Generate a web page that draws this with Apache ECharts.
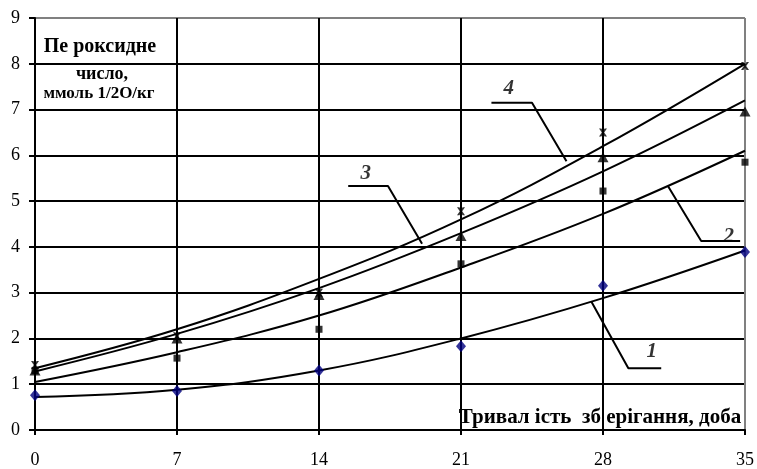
<!DOCTYPE html>
<html><head><meta charset="utf-8">
<script src="https://cdn.jsdelivr.net/npm/echarts@6/dist/echarts.min.js"></script>
<style>html,body{margin:0;padding:0;background:#fff}#c{width:757px;height:469px}</style>
</head><body><div id="c"></div>
<script>
const days = [0, 7, 14, 21, 28, 35];
const xTicks = [0, 7, 14, 21, 28, 35];
const yTicks = [0, 1, 2, 3, 4, 5, 6, 7, 8, 9];
// measured points
const pts1 = [0.76, 0.85, 1.3, 1.83, 3.15, 3.89];
const pts2 = [1.3, 1.57, 2.2, 3.63, 5.22, 5.85];
const pts3 = [1.3, 2.0, 2.95, 4.24, 5.96, 6.96];
const pts4 = [1.42, 2.05, 3.0, 4.78, 6.5, 7.95];
// trend curves
const fit1 = [0.72, 0.88, 1.3, 2.0, 2.88, 3.92];
const fit2 = [1.05, 1.7, 2.5, 3.55, 4.72, 6.1];
const fit3 = [1.28, 2.1, 3.1, 4.3, 5.65, 7.2];
const fit4 = [1.35, 2.2, 3.3, 4.6, 6.2, 8.0];
// callout leaders (data coords) and numbers
const lead1 = [[27.43, 2.8], [29.25, 1.35], [30.87, 1.35]];
const lead2 = [[31.2, 5.33], [32.84, 4.13], [34.76, 4.13]];
const lead3 = [[19.08, 4.07], [17.4, 5.33], [15.44, 5.33]];
const lead4 = [[26.2, 5.87], [24.5, 7.15], [22.5, 7.15]];
const callouts = [[30.4, 1.72, '1'], [34.2, 4.22, '2'], [16.3, 5.6, '3'], [23.35, 7.45, '4']];
const yTitle = ['Пе роксидне', 'число,', 'ммоль 1/2О/кг'];
const xTitle = 'Тривал ість  зб ерігання, доба';

const pair = (xs, ys) => xs.map((x, i) => [x, ys[i]]);
const serif = 'Liberation Serif, Times New Roman, serif';
const fitSeries = ys => ({type: 'line', data: pair(days, ys), smooth: 0.4, symbol: 'none',
  lineStyle: {color: '#000', width: 2}, z: 3, silent: true});
const leadSeries = d => ({type: 'line', data: d, symbol: 'none',
  lineStyle: {color: '#000', width: 2}, z: 3, silent: true});
const crossPath = 'path://M0,0L3,0L5,3L7,0L10,0L6.5,5L10,10L7,10L5,7L3,10L0,10L3.5,5Z';

const chart = echarts.init(document.getElementById('c'));
chart.setOption({
  animation: false,
  grid: {left: 35, right: 10, top: 18, bottom: 37},
  xAxis: {type: 'value', min: 0, max: 35, interval: 7,
    axisLine: {lineStyle: {color: '#000', width: 2}},
    axisTick: {show: true, length: 5, lineStyle: {color: '#000', width: 2}},
    axisLabel: {fontFamily: serif, fontSize: 18, color: '#000', margin: 21,
      formatter: v => xTicks.includes(v) ? String(v) : ''},
    splitLine: {show: true, lineStyle: {color: ['#000', '#000', '#000', '#000', '#000', '#808080'], width: 2}}
  },
  yAxis: {type: 'value', min: 0, max: 9, interval: 1,
    axisLine: {show: true, lineStyle: {color: '#000', width: 2}},
    axisTick: {show: true, length: 6, lineStyle: {color: '#000', width: 2}},
    axisLabel: {fontFamily: serif, fontSize: 18, color: '#000', margin: 15,
      formatter: v => yTicks.includes(v) ? String(v) : ''},
    splitLine: {show: true, lineStyle: {color: ['#000', '#000', '#000', '#000', '#000', '#000', '#000', '#000', '#000', '#808080'], width: 2}}
  },
  graphic: [
    {type: 'text', x: 100, y: 47, style: {text: yTitle[0], font: 'bold 20px ' + serif, fill: '#000', align: 'center', verticalAlign: 'middle'}},
    {type: 'text', x: 102, y: 74, style: {text: yTitle[1], font: 'bold 18px ' + serif, fill: '#000', align: 'center', verticalAlign: 'middle'}},
    {type: 'text', x: 99, y: 94, style: {text: yTitle[2], font: 'bold 17px ' + serif, fill: '#000', align: 'center', verticalAlign: 'middle'}},
    {type: 'text', x: 600, y: 418, style: {text: xTitle, font: 'bold 21px ' + serif, fill: '#000', align: 'center', verticalAlign: 'middle'}}
  ],
  series: [
    fitSeries(fit1), fitSeries(fit2), fitSeries(fit3), fitSeries(fit4),
    leadSeries(lead1), leadSeries(lead2), leadSeries(lead3), leadSeries(lead4),
    {type: 'scatter', data: pair(days, pts1), symbol: 'diamond', symbolSize: [10, 12],
      itemStyle: {color: '#000080'}, z: 5},
    {type: 'scatter', data: pair(days, pts2), symbol: 'rect', symbolSize: 7,
      itemStyle: {color: '#000'}, z: 5},
    {type: 'scatter', data: pair(days, pts3), symbol: 'triangle', symbolSize: [11, 10],
      itemStyle: {color: '#000'}, z: 5},
    {type: 'scatter', data: pair(days, pts4), symbol: crossPath, symbolSize: 8,
      itemStyle: {color: '#000'}, z: 5},
    {type: 'scatter', data: callouts, symbolSize: 0, z: 6,
      label: {show: true, position: 'inside', formatter: p => p.value[2],
        fontFamily: serif, fontSize: 21, fontStyle: 'italic', fontWeight: 'bold', color: '#000'}}
  ]
});
</script></body></html>
